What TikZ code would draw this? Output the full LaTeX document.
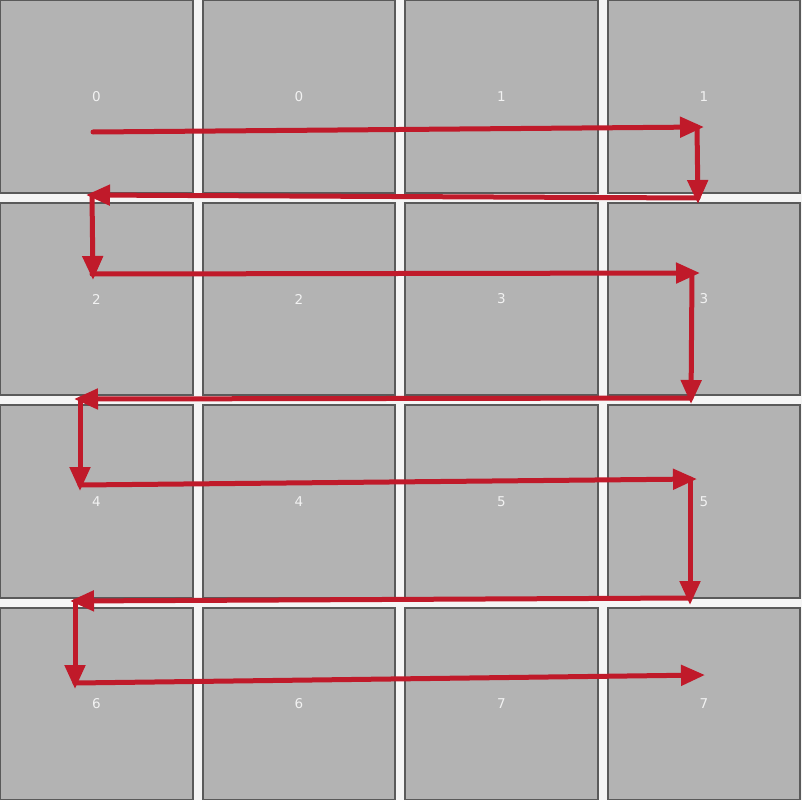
\documentclass[tikz,border=0pt]{standalone}
\usepackage{fontspec}
\setmainfont{DejaVu Sans}
\usetikzlibrary{arrows.meta}
\definecolor{cellgray}{HTML}{B3B3B3}
\definecolor{edgegray}{HTML}{5A5A5A}
\definecolor{gapwhite}{HTML}{F5F5F5}
\definecolor{arrowred}{HTML}{C01A2A}
\definecolor{labelwhite}{HTML}{F2F2F2}
\tikzset{
  cell/.style={draw=edgegray, line width=1.6pt, fill=cellgray, minimum size=192.5pt, inner sep=0pt, outer sep=0pt, text=labelwhite, font=\fontsize{13.5pt}{15pt}\selectfont},
  flow/.style={draw=arrowred, line width=5pt, line cap=round, -{Triangle[length=24pt,width=20pt]}}
}
\begin{document}
\begin{tikzpicture}[x=1pt,y=-1pt]
\useasboundingbox (0,0) rectangle (802,800);
\fill[gapwhite] (0,0) rectangle (802,800);
\begin{scope}
\clip (0,0) rectangle (802,799.4);
\foreach \r in {0,1,2,3}{
  \foreach \c in {0,1,2,3}{
    \pgfmathtruncatemacro{\v}{2*\r + int(\c/2)}
    \node[cell] (c\r\c) at ({202.5*\c+96.5},{202.5*\r+96.5}) {\v};
  }
}
\end{scope}
% path points
\coordinate (a0) at (93,132);  \coordinate (a1) at (704,127);
\coordinate (b0) at (697,127); \coordinate (b1) at (698,204);
\coordinate (d0) at (698,198); \coordinate (d1) at (86,195);
\coordinate (e0) at (92,195);  \coordinate (e1) at (93,280);
\coordinate (f0) at (92,274);  \coordinate (f1) at (700,273);
\coordinate (g0) at (692,273); \coordinate (g1) at (691,404);
\coordinate (h0) at (691,398); \coordinate (h1) at (74,399);
\coordinate (i0) at (80,399);  \coordinate (i1) at (80,491);
\coordinate (j0) at (80,485);  \coordinate (j1) at (697,479);
\coordinate (k0) at (690,479); \coordinate (k1) at (690,605);
\coordinate (l0) at (690,598); \coordinate (l1) at (70,601);
\coordinate (m0) at (75,601);  \coordinate (m1) at (75,689);
\coordinate (n0) at (75,683);  \coordinate (n1) at (705,675);
\foreach \s in {a,b,d,e,f,g,h,i,j,k,l,m,n}{
  \draw[flow] (\s0) -- (\s1);
}
\end{tikzpicture}
\end{document}
